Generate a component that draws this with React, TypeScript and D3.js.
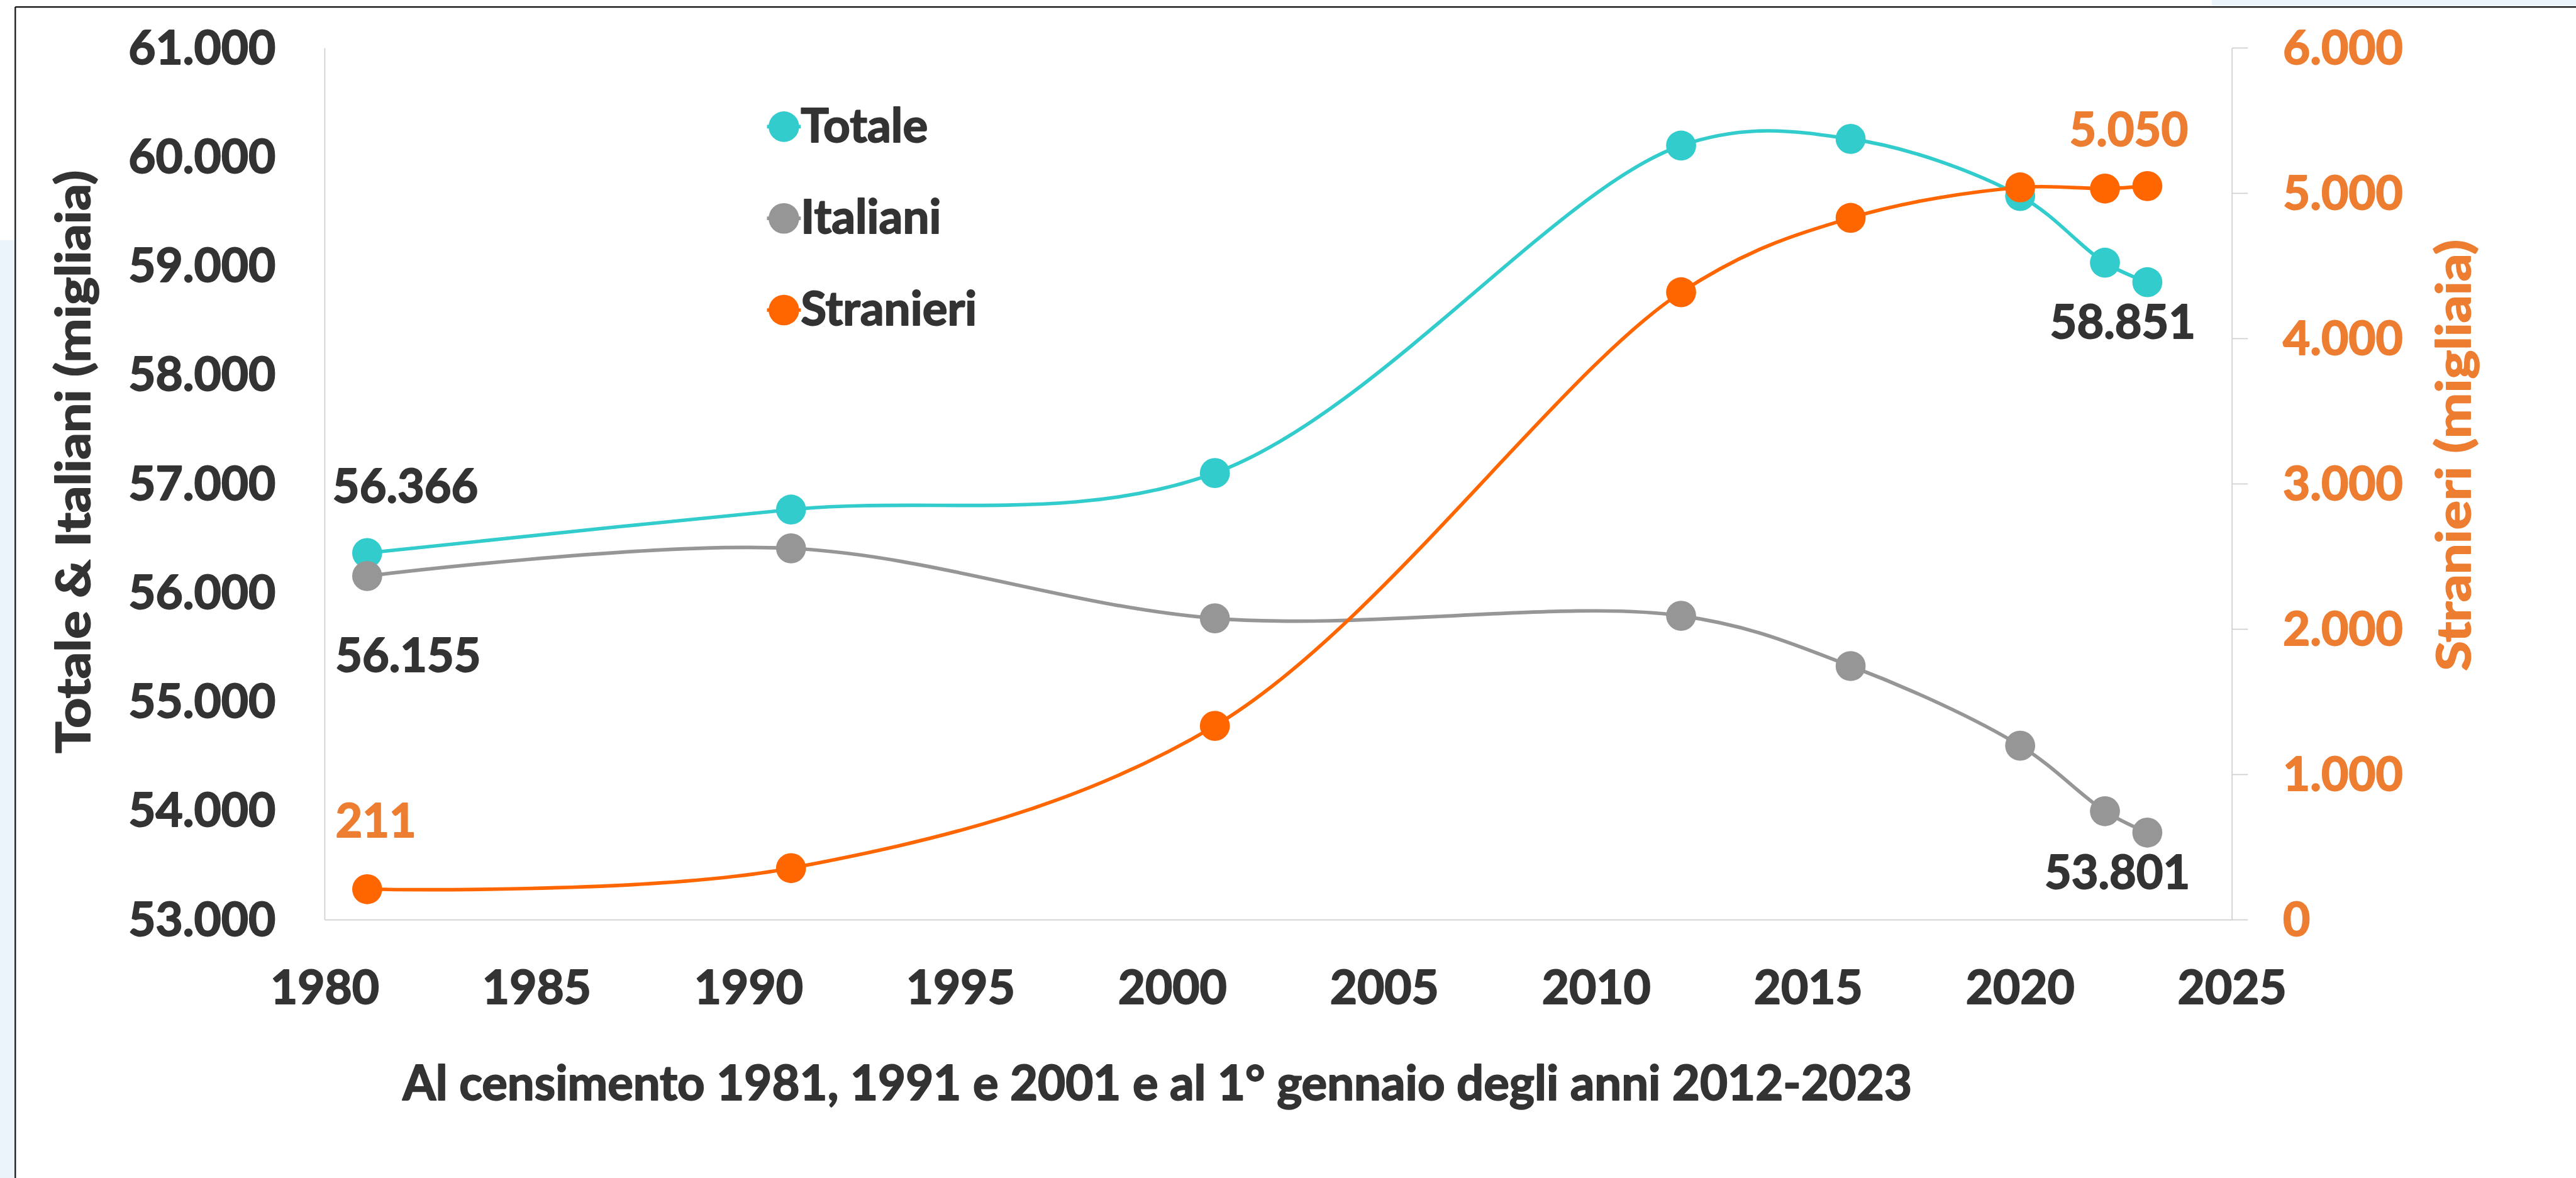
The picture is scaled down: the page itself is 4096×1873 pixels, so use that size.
import React from 'react';
import * as d3 from 'd3';

// ---- data ----
const years = [1981, 1991, 2001, 2012, 2016, 2020, 2022, 2023];
const totale = [56366, 56765, 57100, 60105, 60166, 59642, 59030, 58851];
const italiani = [56155, 56409, 55767, 55790, 55329, 54598, 53997, 53801];
const stranieri = [211, 356, 1335, 4319, 4831, 5041, 5033, 5050];

const xTicks = [1980, 1985, 1990, 1995, 2000, 2005, 2010, 2015, 2020, 2025];
const leftTicks = [53000, 54000, 55000, 56000, 57000, 58000, 59000, 60000, 61000];
const rightTicks = [0, 1000, 2000, 3000, 4000, 5000, 6000];

const seriesNames = ['Totale', 'Italiani', 'Stranieri'];
const xTitle = 'Al censimento 1981, 1991 e 2001 e al 1° gennaio degli anni 2012-2023';
const leftTitle = 'Totale & Italiani (migliaia)';
const rightTitle = 'Stranieri (migliaia)';

// ---- styles ----
const REF_W = 4719;
const S = 4096 / REF_W;
const FONT = 'Lato, "Open Sans", sans-serif';
const DARK = '#333333';
const ORANGE_TXT = '#ED7D31';
const COLORS: Record<string, string> = { Totale: '#33CCCC', Italiani: '#969696', Stranieri: '#FF6600' };
const AXIS = '#D0D0D0';
const TXT_STROKE = 2.2;

const itLocale = d3.formatLocale({ decimal: ',', thousands: '.', grouping: [3], currency: ['€', ''] });
const fmt = itLocale.format(',d');

function T(props: any) {
  const { fill, children, ...rest } = props;
  return (
    <text
      fontFamily={FONT}
      fontWeight={700}
      fill={fill}
      stroke={fill}
      strokeWidth={TXT_STROKE}
      strokeLinejoin="round"
      {...rest}
    >
      {children}
    </text>
  );
}

export default function App() {
  const x = d3.scaleLinear().domain([1980, 2025]).range([595, 4089]);
  const yL = d3.scaleLinear().domain([53000, 61000]).range([1685, 88]);
  const yR = d3.scaleLinear().domain([0, 6000]).range([1685, 88]);

  const mk = (vals: number[], y: d3.ScaleLinear<number, number>) =>
    years.map((yr, i) => [x(yr), y(vals[i])] as [number, number]);

  const series = [
    { name: 'Totale', pts: mk(totale, yL), vals: totale },
    { name: 'Italiani', pts: mk(italiani, yL), vals: italiani },
    { name: 'Stranieri', pts: mk(stranieri, yR), vals: stranieri },
  ];

  const line = d3.line<[number, number]>().curve(d3.curveCatmullRom.alpha(0.5));

  const last = years.length - 1;
  const labels = [
    { s: 0, i: 0, dx: 70, dy: -93, color: DARK },
    { s: 1, i: 0, dx: 75, dy: 175, color: DARK },
    { s: 2, i: 0, dx: 16, dy: -95, color: ORANGE_TXT },
    { s: 0, i: last, dx: -45, dy: 103, color: DARK },
    { s: 1, i: last, dx: -55, dy: 103, color: DARK },
    { s: 2, i: last, dx: -34, dy: -74, color: ORANGE_TXT },
  ];

  const legendY = [232, 400, 568];

  return (
    <svg
      width={4096}
      height={1873}
      style={{ position: 'absolute', left: 0, top: 0, display: 'block', background: '#fff' }}
    >
      <g transform={`scale(${S})`}>
        <rect x={0} y={0} width={REF_W} height={2158} fill="#ffffff" />
        {/* slide background fragments */}
        <rect x={0} y={440} width={27} height={1718} fill="#EBF3FB" />
        <rect x={4052} y={0} width={REF_W - 4052} height={11} fill="#EBF3FB" />
        {/* frame */}
        <line x1={28} y1={12.7} x2={REF_W} y2={12.7} stroke="#111" strokeWidth={2.6} />
        <line x1={28} y1={12.7} x2={28} y2={2158} stroke="#111" strokeWidth={2.6} />

        {/* axes */}
        <line x1={x(1980)} y1={yL(61000)} x2={x(1980)} y2={yL(53000)} stroke={AXIS} strokeWidth={2} />
        <line x1={x(2025)} y1={yR(6000)} x2={x(2025)} y2={yR(0)} stroke={AXIS} strokeWidth={2} />
        <line x1={x(1980)} y1={yL(53000)} x2={x(2025)} y2={yL(53000)} stroke={AXIS} strokeWidth={2} />
        {rightTicks.map((t) => (
          <line key={'rt' + t} x1={x(2025)} x2={x(2025) + 29} y1={yR(t)} y2={yR(t)} stroke={AXIS} strokeWidth={2} />
        ))}

        {/* tick labels */}
        {leftTicks.map((t) => (
          <T key={'l' + t} x={505} y={yL(t) + 29} textAnchor="end" fontSize={86} fill={DARK}>
            {fmt(t)}
          </T>
        ))}
        {rightTicks.map((t) => (
          <T key={'r' + t} x={4182} y={yR(t) + 29} textAnchor="start" fontSize={86} fill={ORANGE_TXT}>
            {fmt(t)}
          </T>
        ))}
        {xTicks.map((t) => (
          <T key={'x' + t} x={x(t)} y={1839} textAnchor="middle" fontSize={86} fill={DARK}>
            {t}
          </T>
        ))}

        {/* axis titles */}
        <T x={2120} y={2015} textAnchor="middle" fontSize={88} fill={DARK} textLength={2765} lengthAdjust="spacingAndGlyphs">
          {xTitle}
        </T>
        <T transform={`translate(165,846) rotate(-90)`} textAnchor="middle" fontSize={85} fill={DARK} textLength={1068} lengthAdjust="spacingAndGlyphs">
          {leftTitle}
        </T>
        <T transform={`translate(4525,834) rotate(-90)`} textAnchor="middle" fontSize={85} fill={ORANGE_TXT} textLength={790} lengthAdjust="spacingAndGlyphs">
          {rightTitle}
        </T>

        {/* series */}
        {series.map((s) => (
          <g key={s.name}>
            <path d={line(s.pts) || ''} fill="none" stroke={COLORS[s.name]} strokeWidth={6.5} />
            {s.pts.map((p, i) => (
              <circle key={i} cx={p[0]} cy={p[1]} r={27.5} fill={COLORS[s.name]} />
            ))}
          </g>
        ))}

        {/* data labels */}
        {labels.map((l, k) => {
          const p = series[l.s].pts[l.i];
          return (
            <T key={'dl' + k} x={p[0] + l.dx} y={p[1] + l.dy} textAnchor="middle" fontSize={85} fill={l.color}>
              {fmt(series[l.s].vals[l.i])}
            </T>
          );
        })}

        {/* legend */}
        {seriesNames.map((n, i) => (
          <g key={'lg' + n}>
            <line x1={1405} x2={1467} y1={legendY[i]} y2={legendY[i]} stroke={COLORS[n]} strokeWidth={6.5} />
            <circle cx={1436} cy={legendY[i]} r={28} fill={COLORS[n]} />
            <T x={1467} y={legendY[i] + 28} fontSize={86} fill={DARK}>
              {n}
            </T>
          </g>
        ))}
      </g>
    </svg>
  );
}
